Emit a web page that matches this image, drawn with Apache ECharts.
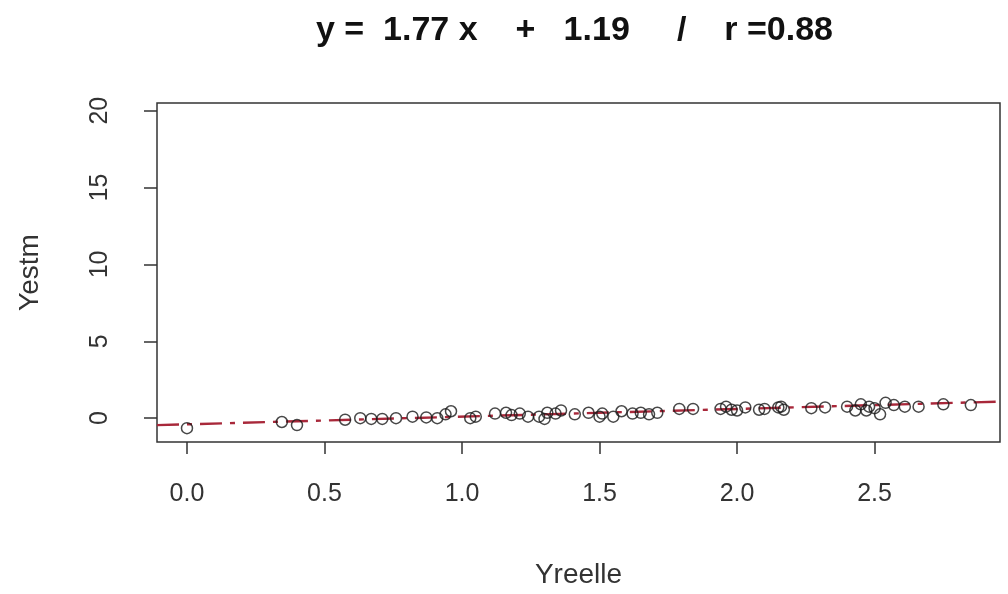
<!DOCTYPE html>
<html>
<head>
<meta charset="utf-8">
<script src="https://cdn.jsdelivr.net/npm/echarts@6/dist/echarts.min.js"></script>
<style>
  html, body { margin: 0; padding: 0; background: #fff; }
  #main { width: 1008px; height: 594px; }
</style>
</head>
<body>
<div id="main"></div>
<script>
// Yreelle (x) / Yestm (y)
var yReel = [0.00, 0.345, 0.40, 0.575, 0.63, 0.67, 0.71, 0.76, 0.82, 0.87, 0.91, 0.94, 0.96,
  1.03, 1.05, 1.12, 1.16, 1.18, 1.21, 1.24, 1.28, 1.30, 1.31, 1.34, 1.36, 1.41, 1.46, 1.50,
  1.51, 1.55, 1.58, 1.62, 1.65, 1.68, 1.71, 1.79, 1.84, 1.94, 1.96, 1.98, 2.00, 2.03, 2.08,
  2.10, 2.15, 2.16, 2.17, 2.27, 2.32, 2.40, 2.43, 2.45, 2.47, 2.48, 2.50, 2.52, 2.54, 2.57,
  2.61, 2.66, 2.75, 2.85];
var yEstm = [-0.65, -0.25, -0.45, -0.10, 0.00, -0.05, -0.05, 0.00, 0.10, 0.05, 0.00, 0.25, 0.45,
  0.00, 0.10, 0.30, 0.35, 0.20, 0.30, 0.10, 0.10, -0.05, 0.35, 0.30, 0.50, 0.25, 0.35, 0.10,
  0.30, 0.10, 0.45, 0.30, 0.35, 0.25, 0.35, 0.60, 0.60, 0.60, 0.75, 0.55, 0.50, 0.70, 0.55,
  0.60, 0.70, 0.75, 0.55, 0.65, 0.70, 0.75, 0.50, 0.90, 0.50, 0.75, 0.65, 0.25, 1.00, 0.85,
  0.75, 0.75, 0.90, 0.85];

// droite tracée (abline)
var fitSlope = 0.5;
var fitIntercept = -0.40;

var xTicks = [0, 0.5, 1.0, 1.5, 2.0, 2.5];
var yTicks = [0, 5, 10, 15, 20];
var xMin = -0.109, xMax = 2.956;
var yMin = -1.55, yMax = 20.5;

var titleText = 'y =  1.77 x    +   1.19     /    r =0.88';

var points = yReel.map(function (v, i) { return [v, yEstm[i]]; });
var fitLine = [xMin, xMax].map(function (x) { return [x, fitIntercept + fitSlope * x]; });

var font = '"Liberation Sans", Arial, sans-serif';
var chart = echarts.init(document.getElementById('main'));
chart.setOption({
  animation: false,
  backgroundColor: '#fff',
  title: {
    text: titleText,
    left: 311,
    top: 9,
    textStyle: { fontFamily: font, fontSize: 34, fontWeight: 'bold', color: '#111' }
  },
  grid: {
    left: 157, right: 8, top: 103, bottom: 150,
    show: true, borderColor: '#333', borderWidth: 1.5, backgroundColor: 'transparent'
  },
  xAxis: {
    type: 'value',
    min: xMin, max: xMax,
    name: 'Yreelle',
    nameLocation: 'middle',
    nameGap: 119,
    nameTextStyle: { fontFamily: font, fontSize: 28, color: '#333' },
    axisLine: { show: false, onZero: false },
    splitLine: { show: false },
    axisTick: { show: true, inside: false, length: 12, customValues: xTicks,
      lineStyle: { color: '#333', width: 1.5 } },
    axisLabel: { customValues: xTicks, margin: 40, fontFamily: font, fontSize: 25, color: '#333',
      formatter: function (v) { return v.toFixed(1); } }
  },
  yAxis: {
    type: 'value',
    min: yMin, max: yMax,
    name: 'Yestm',
    nameLocation: 'middle',
    nameGap: 113,
    nameTextStyle: { fontFamily: font, fontSize: 28, color: '#333' },
    axisLine: { show: false, onZero: false },
    splitLine: { show: false },
    axisTick: { show: true, inside: false, length: 13, customValues: yTicks,
      lineStyle: { color: '#333', width: 1.5 } },
    axisLabel: { customValues: yTicks, rotate: 90, margin: 57, fontFamily: font, fontSize: 25,
      color: '#333', align: 'center', verticalAlign: 'middle' }
  },
  series: [
    {
      type: 'line',
      data: fitLine,
      symbol: 'none',
      lineStyle: { color: '#a8283a', width: 2.4, type: [22, 8, 5, 8] },
      z: 1
    },
    {
      type: 'scatter',
      data: points,
      symbol: 'circle',
      symbolSize: 11,
      itemStyle: { color: 'rgba(255,255,255,0)', borderColor: '#1a1a1a', borderWidth: 1.5 },
      z: 2
    }
  ]
});
</script>
</body>
</html>
